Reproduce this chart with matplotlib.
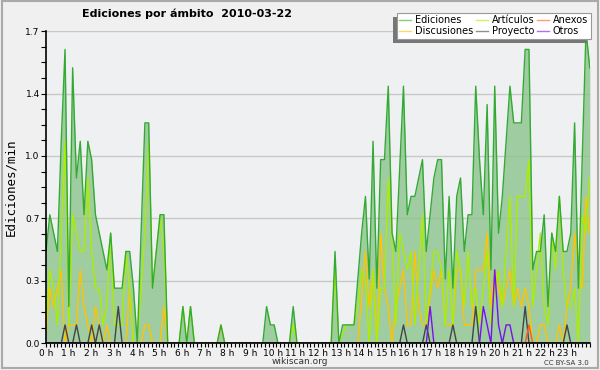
import matplotlib
matplotlib.use("Agg")
import matplotlib.pyplot as plt
from matplotlib.patches import Rectangle
from matplotlib.ticker import FixedLocator, MultipleLocator
import numpy as np

# edits per minute, 10-minute steps over the day
ediciones = [0.5, 0.7, 0.6, 0.5, 1.1, 1.6, 0.2, 1.5, 0.9, 1.1, 0.7, 1.1, 1.0, 0.7, 0.6, 0.5,
             0.4, 0.6, 0.3, 0.3, 0.3, 0.5, 0.5, 0.3, 0.0, 0.6, 1.2, 1.2, 0.3, 0.5, 0.7, 0.7,
             0.0, 0.0, 0.0, 0.0, 0.2, 0.0, 0.2, 0.0, 0.0, 0.0, 0.0, 0.0, 0.0, 0.0, 0.1, 0.0,
             0.0, 0.0, 0.0, 0.0, 0.0, 0.0, 0.0, 0.0, 0.0, 0.0, 0.2, 0.1, 0.1, 0.0, 0.0, 0.0,
             0.0, 0.2, 0.0, 0.0, 0.0, 0.0, 0.0, 0.0, 0.0, 0.0, 0.0, 0.0, 0.5, 0.0, 0.1, 0.1,
             0.1, 0.1, 0.35, 0.6, 0.8, 0.35, 1.1, 0.3, 1.0, 1.0, 1.4, 0.6, 0.5, 0.95, 1.4, 0.7,
             0.8, 0.8, 0.9, 1.0, 0.5, 0.7, 0.9, 1.0, 1.0, 0.35, 0.8, 0.3, 0.8, 0.9, 0.5, 0.7,
             0.7, 1.4, 1.0, 0.7, 1.3, 0.4, 1.4, 0.6, 0.8, 1.1, 1.4, 1.2, 1.2, 1.2, 1.6, 1.6,
             0.4, 0.5, 0.5, 0.7, 0.2, 0.6, 0.5, 0.8, 0.5, 0.5, 0.6, 1.2, 0.3, 1.0, 1.7, 1.5]

articulos = [0.1, 0.4, 0.3, 0.1, 0.6, 1.1, 0.1, 0.7, 0.6, 0.5, 0.5, 0.9, 0.5, 0.3, 0.3, 0.1,
             0.2, 0.6, 0.1, 0.1, 0.1, 0.5, 0.3, 0.0, 0.0, 0.3, 0.6, 1.1, 0.3, 0.5, 0.7, 0.5,
             0.0, 0.0, 0.0, 0.0, 0.2, 0.0, 0.2, 0.0, 0.0, 0.0, 0.0, 0.0, 0.0, 0.0, 0.0, 0.0,
             0.0, 0.0, 0.0, 0.0, 0.0, 0.0, 0.0, 0.0, 0.0, 0.0, 0.0, 0.0, 0.0, 0.0, 0.0, 0.0,
             0.0, 0.1, 0.0, 0.0, 0.0, 0.0, 0.0, 0.0, 0.0, 0.0, 0.0, 0.0, 0.4, 0.0, 0.05, 0.1,
             0.1, 0.1, 0.2, 0.4, 0.35, 0.0, 0.4, 0.0, 0.3, 0.3, 0.9, 0.55, 0.1, 0.6, 0.5, 0.4,
             0.5, 0.1, 0.4, 0.7, 0.1, 0.3, 0.5, 0.5, 0.4, 0.1, 0.4, 0.1, 0.5, 0.4, 0.2, 0.5,
             0.2, 0.3, 0.1, 0.3, 0.5, 0.1, 0.3, 0.4, 0.2, 0.5, 0.8, 0.2, 0.8, 0.8, 0.8, 1.0,
             0.2, 0.4, 0.6, 0.2, 0.1, 0.6, 0.4, 0.8, 0.4, 0.2, 0.2, 0.3, 0.0, 0.7, 0.6, 0.9]

discusiones = [0.05, 0.3, 0.2, 0.3, 0.4, 0.0, 0.1, 0.1, 0.1, 0.4, 0.2, 0.1, 0.0, 0.2, 0.1, 0.0,
               0.1, 0.0, 0.0, 0.0, 0.0, 0.0, 0.3, 0.0, 0.0, 0.0, 0.1, 0.1, 0.0, 0.0, 0.0, 0.2,
               0.0, 0.0, 0.0, 0.0, 0.0, 0.0, 0.0, 0.0, 0.0, 0.0, 0.0, 0.0, 0.0, 0.0, 0.1, 0.0,
               0.0, 0.0, 0.0, 0.0, 0.0, 0.0, 0.0, 0.0, 0.0, 0.0, 0.0, 0.0, 0.0, 0.0, 0.0, 0.0,
               0.0, 0.0, 0.0, 0.0, 0.0, 0.0, 0.0, 0.0, 0.0, 0.0, 0.0, 0.0, 0.0, 0.0, 0.0, 0.0,
               0.0, 0.0, 0.0, 0.25, 0.5, 0.2, 0.4, 0.0, 0.6, 0.3, 0.2, 0.0, 0.2, 0.3, 0.4, 0.1,
               0.1, 0.5, 0.2, 0.1, 0.1, 0.25, 0.4, 0.3, 0.4, 0.1, 0.1, 0.1, 0.4, 0.4, 0.1, 0.1,
               0.1, 0.4, 0.4, 0.4, 0.6, 0.2, 0.4, 0.3, 0.2, 0.3, 0.4, 0.2, 0.3, 0.2, 0.3, 0.2,
               0.0, 0.0, 0.1, 0.1, 0.0, 0.0, 0.0, 0.1, 0.0, 0.2, 0.3, 0.6, 0.4, 0.3, 0.8, 0.6]

n = len(ediciones)
proyecto = [0.0] * n
for i, v in [(5, 0.1), (8, 0.1), (12, 0.1), (14, 0.1), (19, 0.2), (94, 0.1), (100, 0.1),
             (107, 0.1), (113, 0.2), (126, 0.2), (137, 0.1)]:
    proyecto[i] = v
otros = [0.0] * n
for i, v in [(101, 0.2), (115, 0.2), (116, 0.1), (118, 0.4), (119, 0.1), (121, 0.1), (122, 0.1)]:
    otros[i] = v
anexos = [0.0] * n
anexos[127] = 0.1

hours = np.linspace(0, 24, n)

fig = plt.figure(figsize=(6, 3.7), dpi=100, facecolor='#f0f0f0')
fig.patches.append(Rectangle((0.004, 0.006), 0.992, 0.99, transform=fig.transFigure,
                             fill=False, edgecolor='#aaaaaa', lw=1.5))
ax = fig.add_axes([0.0767, 0.0722, 0.9063, 0.8438])
ax.set_facecolor('#eef0f2')

ax.fill_between(hours, 0, ediciones, color='#8cc48c', alpha=0.8, lw=0, zorder=2)
ax.plot(hours, ediciones, color='#33aa33', lw=1.0, label='Ediciones', zorder=5)
ax.plot(hours, discusiones, color='#ffc400', lw=1.0, label='Discusiones', zorder=3)
ax.plot(hours, articulos, color='#aaee00', lw=1.0, label='Art\u00edculos', zorder=4)
ax.plot(hours, proyecto, color='#444444', lw=1.0, label='Proyecto', zorder=4)
ax.plot(hours, anexos, color='#ff5522', lw=1.0, label='Anexos', zorder=4)
ax.plot(hours, otros, color='#7711ee', lw=1.0, label='Otros', zorder=4)

ax.set_xlim(0, 24)
ax.set_ylim(0, 1.7)
yt = np.linspace(0, 1.7, 6)
ax.yaxis.set_major_locator(FixedLocator(yt))
ax.set_yticklabels(['%.1f' % v for v in yt])
ax.yaxis.set_minor_locator(MultipleLocator(1.7 / 20))
ax.set_xticks(range(24))
ax.set_xticklabels(['%d h' % h for h in range(24)])
ax.xaxis.set_minor_locator(MultipleLocator(1 / 6))
ax.tick_params(axis='both', which='both', labelsize=6.5, colors='black', width=0.8)
ax.tick_params(axis='x', which='both', length=3, pad=1)
ax.tick_params(axis='y', which='both', length=3.5, pad=1)
ax.grid(axis='y', color='#c8c8c8', lw=1.0, zorder=1)
ax.set_axisbelow(True)
for s in ['top', 'right']:
    ax.spines[s].set_visible(False)
for s in ['left', 'bottom']:
    ax.spines[s].set_linewidth(1.2)
    ax.spines[s].set_zorder(8)

ax.set_ylabel('Ediciones/min', family='DejaVu Sans Mono', fontsize=9, labelpad=6)
fig.text(0.312, 0.962, 'Ediciones por \u00e1mbito  2010-03-22', fontsize=8,
         fontweight='bold', ha='center', va='center')
fig.text(0.5, 0.024, 'wikiscan.org', fontsize=6.5, ha='center', va='center', color='#333333')
fig.text(0.982, 0.02, 'CC BY-SA 3.0', fontsize=5, ha='right', va='center', color='#333333')

leg = ax.legend(ncol=3, loc='upper right', bbox_to_anchor=(0.985, 0.966),
                bbox_transform=fig.transFigure, fontsize=7, frameon=True, fancybox=False,
                shadow=False, framealpha=1.0, facecolor='white',
                handlelength=1.2, handletextpad=0.4, columnspacing=0.3,
                labelspacing=0.05, borderpad=0.3, borderaxespad=0)
leg.get_frame().set_edgecolor('#999999')
leg.get_frame().set_linewidth(0.8)
leg.set_zorder(10)
for line in leg.get_lines():
    line.set_alpha(0.6)

# grey drop shadow, down and to the left of the legend box
fig.canvas.draw()
bb = leg.get_window_extent()
ax.add_patch(Rectangle((bb.x0 - 4, bb.y0 - 4), bb.width, bb.height, transform=None,
                       facecolor='#777777', edgecolor='none', zorder=9, clip_on=False))

fig.savefig('out.png', dpi=100, facecolor=fig.get_facecolor())
